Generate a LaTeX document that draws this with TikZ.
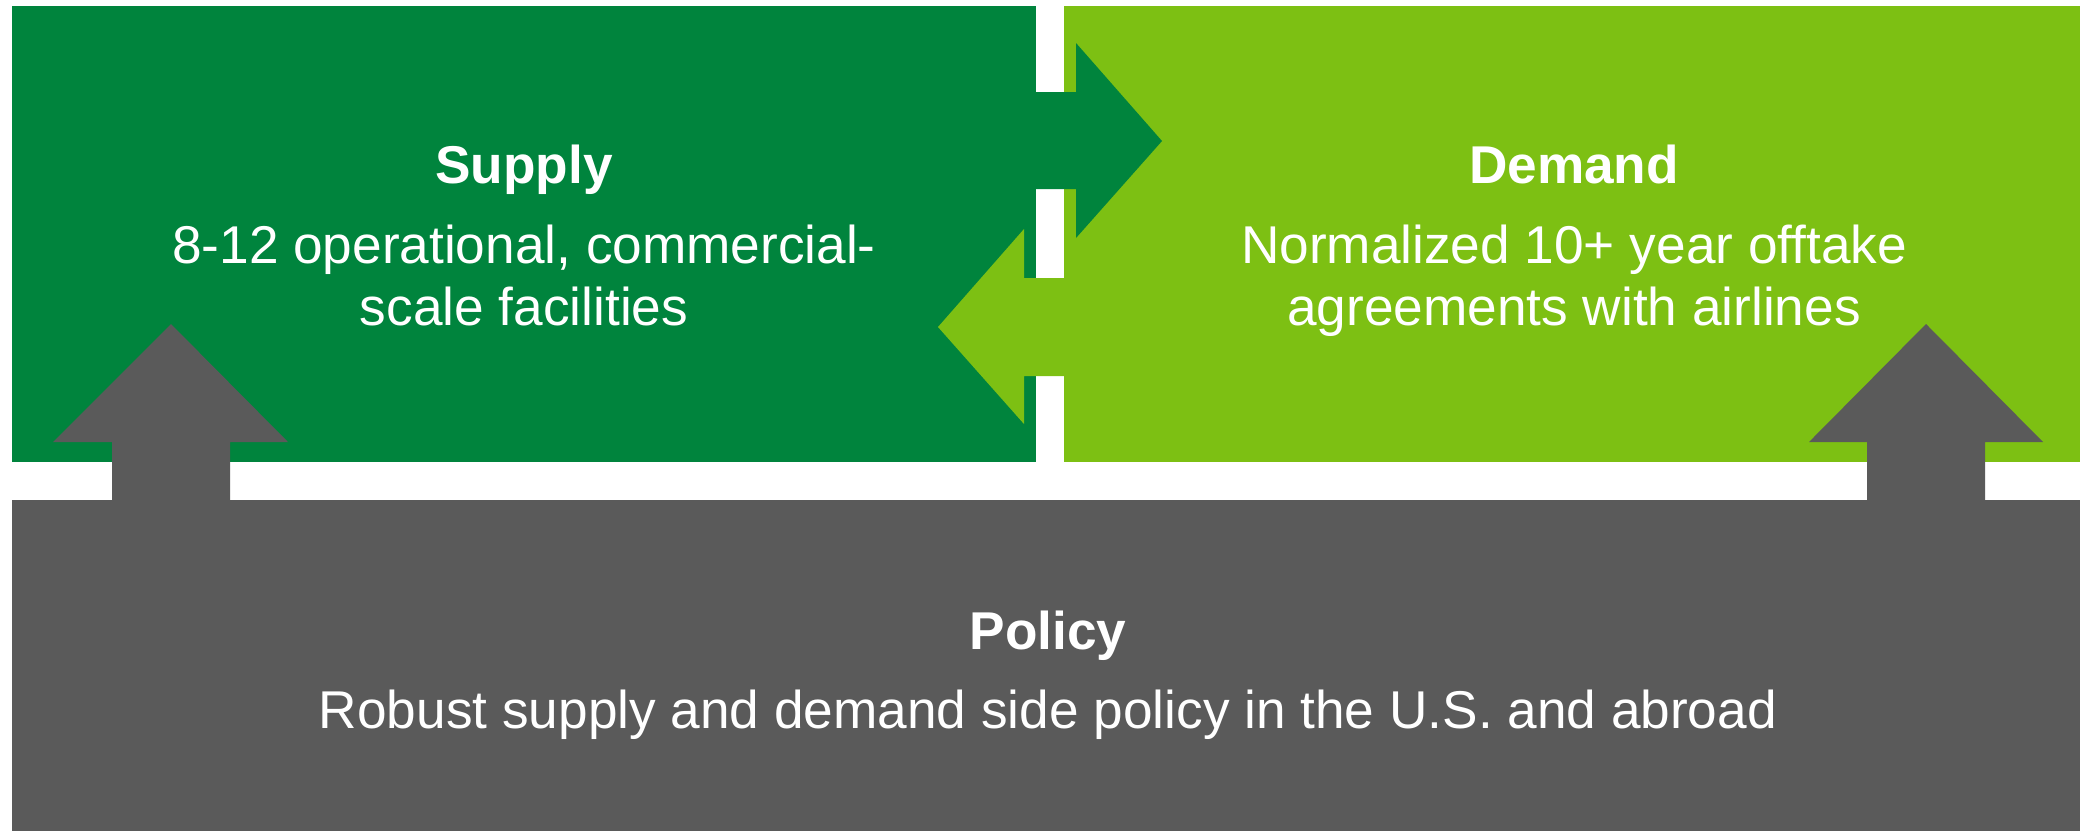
\documentclass[tikz,border=0pt]{standalone}
\usepackage{fontspec}
\setmainfont{Liberation Sans}
\definecolor{supplygreen}{HTML}{00843D}
\definecolor{demandgreen}{HTML}{7DC013}
\definecolor{policygray}{HTML}{5A5A5A}

\begin{document}
\begin{tikzpicture}[x=0.5pt,y=-0.5pt]
\tikzset{
    panel/.style={inner sep=0pt, outer sep=0pt},
    caption/.style={text=white, inner sep=0pt, anchor=base, font=\fontsize{26.6}{31}\selectfont},
    heading/.style={caption, font=\fontsize{26.6}{31}\selectfont\bfseries},
}
\useasboundingbox (0,0) rectangle (2080,831);
% the three panels
\node[panel, fill=supplygreen, minimum width=512pt, minimum height=228pt] (supply) at (524,234) {};
\node[panel, fill=demandgreen, minimum width=508pt, minimum height=228pt] (demand) at (1572,234) {};
\node[panel, fill=policygray, minimum width=1034pt, minimum height=165.5pt] (policy) at (1046,665.5) {};
% policy pushes up into both panels
\fill[policygray] (112,502) -- (112,442) -- (53,442) -- (171,324) -- (288,442) -- (230,442) -- (230,502) -- cycle;
\fill[policygray] (1867,502) -- (1867,442) -- (1809,442) -- (1926,324) -- (2043,442) -- (1985,442) -- (1985,502) -- cycle;
% supply <-> demand
\fill[supplygreen] (1030,92) -- (1076,92) -- (1076,43) -- (1162,141) -- (1076,238) -- (1076,189) -- (1030,189) -- cycle;
\fill[demandgreen] (1070,278) -- (1024,278) -- (1024,229) -- (938,327) -- (1024,424) -- (1024,376) -- (1070,376) -- cycle;
% labels
\node[heading] (supplyhead) at (524,183) {Supply};
\node[caption] (supplyline1) at (524,263) {8-12 operational, commercial-};
\node[caption] (supplyline2) at (524,325) {scale facilities};
\node[heading] (demandhead) at (1574,183) {Demand};
\node[caption] (demandline1) at (1574,263) {Normalized 10+ year offtake};
\node[caption] (demandline2) at (1574,325) {agreements with airlines};
\node[heading] (policyhead) at (1048,649) {Policy};
\node[caption] (policyline) at (1048,728) {Robust supply and demand side policy in the U.S. and abroad};
\end{tikzpicture}
\end{document}
